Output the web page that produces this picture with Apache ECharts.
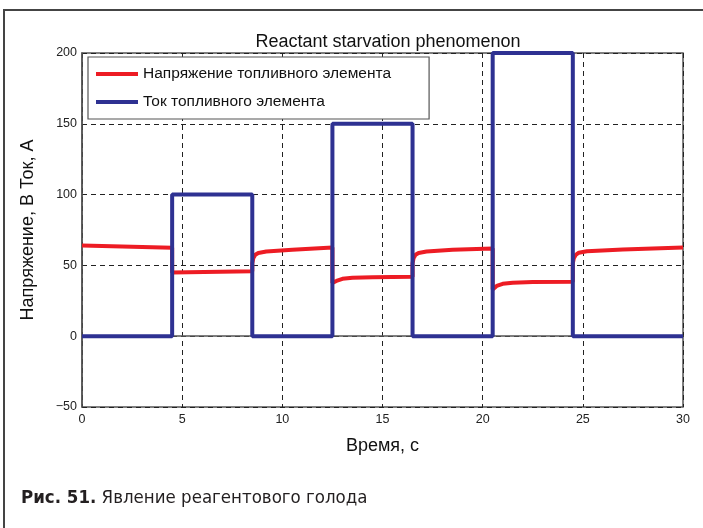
<!DOCTYPE html>
<html><head><meta charset="utf-8">
<script src="https://cdn.jsdelivr.net/npm/echarts@6/dist/echarts.min.js"></script>
<style>html,body{margin:0;padding:0;background:#fff}#c{width:703px;height:528px}</style>
</head><body><div id="c"></div>
<script>
const titleText = 'Reactant starvation phenomenon';
const xName = 'Время, с';
const yName = 'Напряжение, В Ток, А';
const seriesNames = ['Напряжение топливного элемента', 'Ток топливного элемента'];
const captionBold = 'Рис. 51.';
const captionText = ' Явление реагентового голода';

const voltageTime = [0, 4.5, 4.5, 8.5, 8.5, 8.55, 8.65, 8.8, 9.2, 10.5, 12.5, 12.5, 12.7, 13.0, 13.5, 14.5, 16.5, 16.5, 16.55, 16.65, 16.8, 17.2, 18.5, 20.5, 20.5, 20.7, 21.0, 21.5, 22.5, 24.5, 24.5, 24.55, 24.65, 24.8, 25.2, 27, 30];
const voltage =     [64, 62.5, 45, 45.8, 51.5, 55, 57.5, 58.8, 59.8, 61, 62.6, 37.6, 39, 40.5, 41.3, 41.7, 42, 51.5, 55, 57.5, 58.8, 59.8, 61, 62, 33, 35.5, 37, 37.8, 38.2, 38.5, 51.5, 55, 57.5, 59, 60, 61.3, 62.6];

const currentTime = [0, 4.5, 4.5, 8.5, 8.5, 12.5, 12.5, 16.5, 16.5, 20.5, 20.5, 24.5, 24.5, 30];
const current =     [0, 0, 100, 100, 0, 0, 150, 150, 0, 0, 200, 200, 0, 0];

const xMin = 0, xMax = 30, xStep = 5;
const yMin = -50, yMax = 200, yStep = 50;

const chart = echarts.init(document.getElementById('c'));
const font = 'Liberation Sans, Arial, sans-serif';
const capFont = 'Liberation Sans Narrow, DejaVu Sans Condensed, sans-serif';
chart.setOption({
  animation: false,
  backgroundColor: '#fff',
  title: {
    text: titleText, left: 383, top: 28, textAlign: 'center',
    textStyle: {fontFamily: font, fontSize: 18, fontWeight: 'normal', color: '#111'}
  },
  grid: {left: 82, right: 20, top: 53, bottom: 121, show: true, borderColor: '#555', borderWidth: 1.5, backgroundColor: 'transparent'},
  legend: {
    orient: 'vertical', left: 88, top: 57,
    backgroundColor: '#fff', borderColor: '#555', borderWidth: 1.2,
    padding: [9, 38, 9, 8], itemGap: 12,
    itemWidth: 42, itemHeight: 4, icon: 'rect',
    textStyle: {fontFamily: font, fontSize: 15.5, color: '#111'},
    data: seriesNames
  },
  xAxis: {
    type: 'value', min: xMin, max: xMax, interval: xStep,
    name: xName, nameLocation: 'middle', nameGap: 30,
    nameTextStyle: {fontFamily: font, fontSize: 18, color: '#111'},
    axisLine: {show: true, lineStyle: {color: '#555', width: 1.5}},
    axisTick: {show: false},
    axisLabel: {fontFamily: font, fontSize: 12.5, color: '#222', margin: 6},
    splitLine: {show: true, lineStyle: {color: '#222', type: [5, 4], width: 1}}
  },
  yAxis: {
    type: 'value', min: yMin, max: yMax, interval: yStep,
    name: yName, nameLocation: 'middle', nameGap: 45,
    nameTextStyle: {fontFamily: font, fontSize: 18, color: '#111'},
    axisLine: {show: true, lineStyle: {color: '#555', width: 1.5}},
    axisTick: {show: false},
    axisLabel: {fontFamily: font, fontSize: 12.5, color: '#222', margin: 5,
      formatter: v => v < 0 ? '\u2212' + Math.abs(v) : String(v)},
    splitLine: {show: true, lineStyle: {color: '#222', type: [5, 4], width: 1}}
  },
  series: [
    {
      name: seriesNames[0], type: 'line', showSymbol: false, symbol: 'none',
      data: voltageTime.map((t, i) => [t, voltage[i]]),
      lineStyle: {color: '#ed1c24', width: 4}, itemStyle: {color: '#ed1c24'}, z: 3
    },
    {
      name: seriesNames[1], type: 'line', showSymbol: false, symbol: 'none',
      data: currentTime.map((t, i) => [t, current[i]]),
      lineStyle: {color: '#2e3192', width: 4}, itemStyle: {color: '#2e3192'}, z: 4
    }
  ],
  graphic: [
    {type: 'polyline', shape: {points: [[4, 540], [4, 10], [710, 10]]}, style: {stroke: '#444', lineWidth: 2, fill: null}},
    {type: 'text', left: 21, top: 489, style: {
      rich: {
        b: {fontFamily: capFont, fontWeight: 'bold', fontSize: 18.5, fill: '#231f20'},
        n: {fontFamily: capFont, fontSize: 18.5, fill: '#231f20'}
      },
      text: '{b|' + captionBold + '}{n|' + captionText + '}'
    }}
  ]
});
</script></body></html>
